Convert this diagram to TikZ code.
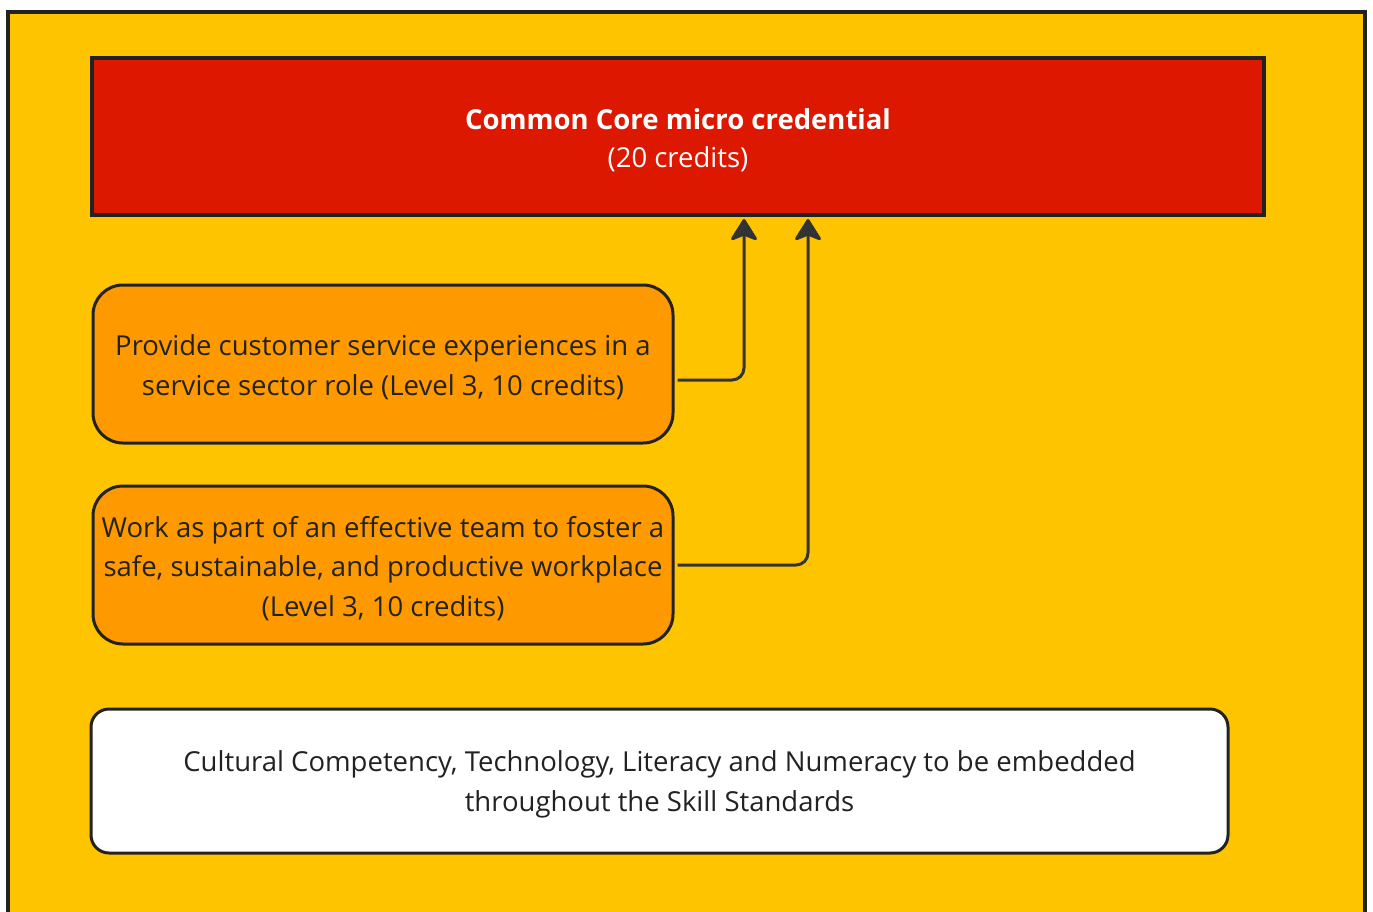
\documentclass[tikz,border=0pt]{standalone}
\usepackage{fontspec}
\setmainfont{Open Sans}
\usetikzlibrary{arrows.meta,calc}
\definecolor{bgyellow}{HTML}{FFC400}
\definecolor{boxred}{HTML}{DD1800}
\definecolor{boxorange}{HTML}{FF9900}
\definecolor{edge}{HTML}{222222}
\definecolor{conncol}{HTML}{333333}
\tikzset{
  txt/.style={font=\fontsize{27.5}{39.5}\selectfont, text=edge, align=center},
  whitetxt/.style={font=\fontsize{27.5}{38.5}\selectfont, text=white, align=center},
  redbox/.style={draw=edge, line width=4pt, fill=boxred, minimum width=1172pt, minimum height=157pt},
  orangebox/.style={draw=edge, line width=3pt, fill=boxorange, rounded corners=30pt, minimum width=580pt, minimum height=158pt},
  whitebox/.style={draw=edge, line width=3pt, fill=white, rounded corners=18pt, minimum width=1137pt, minimum height=144pt},
  conn/.style={draw=conncol, line width=3pt, rounded corners=12pt, -{Stealth[length=24pt,width=30pt,round,inset=6pt]}}
}
\begin{document}
\begin{tikzpicture}[x=1pt,y=-1pt]
\useasboundingbox (0,0) rectangle (1373,911);
\fill[white] (0,0) rectangle (1373,911);
\begin{scope}
\clip (0,0) rectangle (1373,911);
\draw[edge, line width=4pt, fill=bgyellow] (8,12) rectangle (1365,940);
\end{scope}
\node[redbox] (red) at (678,136.5) {};
\node[whitetxt] (redt) at ([yshift=-3.5pt]red.center) {\textbf{Common Core micro credential}\\(20 credits)};
\node[orangebox] (o1) at (383,364) {};
\node[txt] (o1t) at ([yshift=-3pt]o1.center) {Provide customer service experiences in a\\service sector role (Level 3, 10 credits)};
\node[orangebox] (o2) at (383,565) {};
\node[txt] (o2t) at ([yshift=-3.5pt]o2.center) {Work as part of an effective team to foster a\\safe, sustainable, and productive workplace\\(Level 3, 10 credits)};
\node[whitebox] (w) at (659.5,781) {};
\node[txt] (wt) at ([yshift=-3.5pt]w.center) {Cultural Competency, Technology, Literacy and Numeracy to be embedded\\throughout the Skill Standards};
\coordinate (t1) at ($(red.south)+(66,2)$);
\coordinate (t2) at ($(red.south)+(130,2)$);
\draw[conn] ([xshift=3pt,yshift=-16pt]o1.east) -| (t1);
\draw[conn] ([xshift=3pt]o2.east) -| (t2);
\end{tikzpicture}
\end{document}
